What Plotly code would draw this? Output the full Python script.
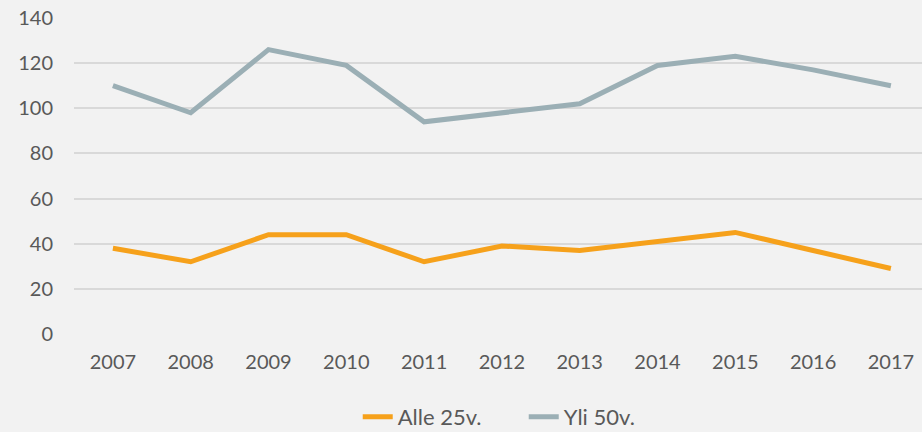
import plotly.graph_objects as go

years = ["2007", "2008", "2009", "2010", "2011", "2012", "2013", "2014", "2015", "2016", "2017"]
alle_25 = [38, 32, 44, 44, 32, 39, 37, 41, 45, 37, 29]
yli_50 = [110, 98, 126, 119, 94, 98, 102, 119, 123, 117, 110]
y_ticks = [0, 20, 40, 60, 80, 100, 120, 140]

ORANGE = "#F6A11B"
GREY = "#9BAFB5"
TEXT = "#595959"
BG = "#F2F2F2"

fig = go.Figure()
fig.add_trace(go.Scatter(x=years, y=alle_25, name="Alle 25v.", mode="lines",
                         line=dict(color=ORANGE, width=5)))
fig.add_trace(go.Scatter(x=years, y=yli_50, name="Yli 50v.", mode="lines",
                         line=dict(color=GREY, width=5)))

fig.update_layout(
    width=922,
    height=432,
    margin=dict(l=74, r=0, t=18, b=98, autoexpand=False),
    paper_bgcolor=BG,
    plot_bgcolor=BG,
    font=dict(family="Lato, 'Open Sans', sans-serif", size=20, color=TEXT),
    showlegend=True,
    legend=dict(orientation="h", xref="container", x=0.388, xanchor="left",
                yref="container", y=0.035, yanchor="middle",
                font=dict(size=22, color=TEXT), itemwidth=30,
                entrywidth=121, entrywidthmode="pixels", traceorder="normal"),
)
fig.update_xaxes(type="category", range=[-0.5, 10.4], showgrid=False, zeroline=False,
                 showline=False, ticks="", ticklabelstandoff=14, automargin=False,
                 tickfont=dict(size=20, color=TEXT))
fig.update_yaxes(range=[0, 140], tickvals=y_ticks, showgrid=True, gridcolor="#D9D9D9",
                 gridwidth=1.5, zeroline=False, showline=False, ticks="", automargin=False,
                 ticklabelstandoff=20, tickfont=dict(size=20, color=TEXT))

# page body has a default margin; remove it so the figure fills the window
fig.write_html("out.html",
               config={"displayModeBar": False},
               post_script="document.body.style.margin='0';"
                           "document.body.style.background='#F2F2F2';"
                           "document.body.style.overflow='hidden';")
